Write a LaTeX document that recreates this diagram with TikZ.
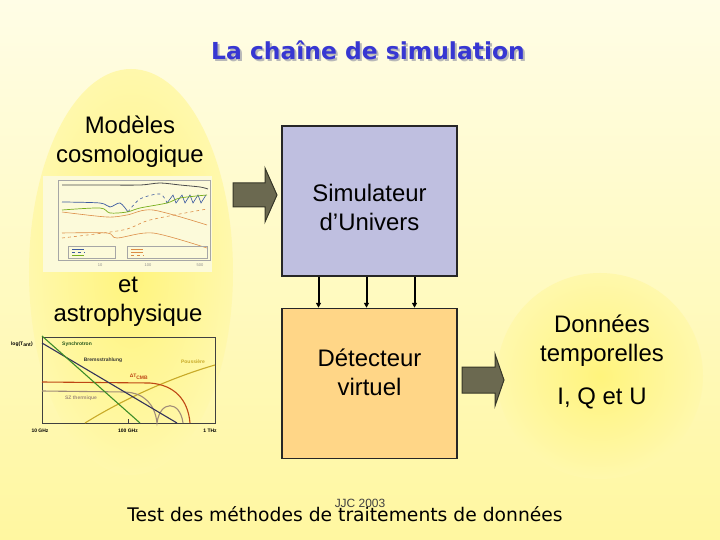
\documentclass[tikz,border=0pt]{standalone}
\usepackage{fontspec}
\setmainfont{Liberation Sans}
\newfontfamily\comicfont{DejaVu Sans}
\usepackage{xcolor}
\definecolor{fondhaut}{RGB}{255,253,230}
\definecolor{fondbas}{RGB}{255,247,160}
\definecolor{jaunein}{RGB}{255,244,125}
\definecolor{jauneout}{RGB}{255,248,172}
\definecolor{titreblue}{RGB}{55,55,210}
\definecolor{simblue}{RGB}{191,191,224}
\definecolor{detorange}{RGB}{255,214,135}
\definecolor{flecheolive}{RGB}{107,105,80}
\definecolor{flechebord}{RGB}{55,55,40}
\definecolor{plotfond}{RGB}{252,250,218}
\definecolor{cvert}{RGB}{60,140,40}
\definecolor{cmarine}{RGB}{50,50,90}
\definecolor{crouge}{RGB}{190,70,20}
\definecolor{cgris}{RGB}{160,140,120}
\definecolor{cjaune}{RGB}{200,170,40}
\definecolor{cbleu}{RGB}{60,90,160}
\definecolor{corange}{RGB}{220,140,70}
\usepackage{tikz}
\usetikzlibrary{positioning, arrows.meta, calc}

\begin{document}
\begin{tikzpicture}[x=1bp, y=-1bp, node distance=31bp, >={Triangle[length=5bp,width=5bp]},
    every node/.style={font=\fontsize{24}{29}\selectfont, align=center, inner sep=0pt},
    boite/.style={draw=black!85, line width=1.5bp, minimum width=175bp, minimum height=150bp},
    grossefleche/.style={fill=flecheolive, draw=flechebord, line width=1bp},
    petitefleche/.style={->, line width=2bp, black},
    legende/.style={font=\fontsize{5}{6}\selectfont\bfseries}]
    \useasboundingbox (0,0) rectangle (720,540);
    \shade [top color=fondhaut, bottom color=fondbas] (0,0) rectangle (720,540);

    % les deux zones jaunes
    \shade [inner color=jaunein, outer color=jauneout] (131,272) ellipse [x radius=102bp, y radius=203bp];
    \shade [inner color=jaunein, outer color=jauneout] (600,376) circle [radius=103bp];

    % titre
    \node [font=\comicfont\bfseries\fontsize{23.5}{28}\selectfont, text=black!28] (titreombre) at (370,52) {La chaîne de simulation};
    \node [font=\comicfont\bfseries\fontsize{23.5}{28}\selectfont, text=titreblue] (titre) at (368,50) {La chaîne de simulation};

    % modeles
    \node (modeles) at (130,142) {Modèles\\cosmologique};
    \node (astro) at (128,302) {et\\astrophysique};

    % spectre de puissance (haut)
    \fill [plotfond] (43,176) rectangle (212,272);
    \draw [black!35, line width=0.4bp] (58,180) rectangle (210,260);
    \draw [black!70, line width=0.8bp] plot [smooth] coordinates {(62,185) (100,185) (140,185) (160,183) (180,185) (200,187) (208,189)};
    \draw [cbleu, line width=0.7bp] plot [smooth] coordinates {(62,202) (100,203) (110,207) (120,203) (128,212)};
    \draw [cbleu, line width=0.6bp, dashed] plot [smooth] coordinates {(128,212) (140,199) (160,194) (167,203)};
    \draw [cbleu, line width=0.6bp] (167,203) -- (173,195) -- (176,203) -- (182,195) -- (185,203) -- (190,195) -- (193,203) -- (198,195) -- (201,203) -- (206,195);
    \draw [cvert!70!yellow, line width=0.7bp] plot [smooth] coordinates {(62,210) (100,208) (110,213) (127,212) (140,208) (167,203) (180,198) (207,195)};
    \draw [corange, line width=0.6bp] plot [smooth] coordinates {(62,212) (107,217) (127,215) (153,210) (207,225)};
    \draw [corange, line width=0.6bp, dashed] plot [smooth] coordinates {(62,238) (123,230) (150,220) (207,209)};
    \draw [corange, line width=0.6bp] plot [smooth] coordinates {(62,233) (107,233) (117,238) (153,233) (207,248)};
    \draw [black!35, line width=0.3bp] (68,246) rectangle (115,258) (127,246) rectangle (207,258);
    \draw [cbleu, line width=0.5bp] (72,249) -- (84,249);
    \draw [cbleu, line width=0.5bp, dashed] (72,252) -- (84,252);
    \draw [cvert!70!yellow, line width=0.5bp] (72,255) -- (84,255);
    \draw [corange, line width=0.5bp] (131,249) -- (143,249) (131,252) -- (143,252);
    \draw [corange, line width=0.5bp, dashed] (131,255) -- (143,255);
    \node [font=\fontsize{4}{5}\selectfont, text=black!45] (tick10) at (100,265) {10};
    \node [font=\fontsize{4}{5}\selectfont, text=black!45] (tick100) at (148,265) {100};
    \node [font=\fontsize{4}{5}\selectfont, text=black!45] (tick500) at (200,265) {500};

    % spectre en frequence (bas)
    \draw [black!75, line width=0.8bp] (42,337) rectangle (215,423);
    \draw [black!75, line width=0.8bp] (128,423) -- (128,419);
    \draw [cjaune, line width=1.1bp] (85,423) .. controls (130,395) and (180,375) .. (215,365);
    \draw [cgris, line width=1.1bp] (42,391) -- (125,392) .. controls (145,393) and (155,405) .. (157,423) .. controls (160,400) and (180,400) .. (183,423);
    \draw [crouge, line width=1.1bp] (42,382) -- (150,383) .. controls (175,385) and (188,400) .. (190,423);
    \draw [cmarine, line width=1.1bp] (42,343) -- (177,423);
    \draw [cvert, line width=1.1bp] (42,336) -- (140,423);
    \node [legende] (logt) at (22,344) {log(T\textsubscript{ant})};
    \node [legende, text=cvert!60!black] (synchro) at (77,344) {Synchrotron};
    \node [legende, text=black!80] (brems) at (103,360) {Bremsstrahlung};
    \node [legende, text=cjaune] (poussiere) at (193,362) {Poussière};
    \node [legende, text=crouge] (cmb) at (139,377) {ΔT\textsubscript{CMB}};
    \node [legende, text=cgris] (sz) at (81,398) {SZ thermique};
    \node [legende] (f10) at (40,431) {10 GHz};
    \node [legende] (f100) at (128,431) {100 GHz};
    \node [legende] (f1000) at (210,431) {1 THz};

    % chaine
    \draw [grossefleche] (233,183) -- (265,183) -- (265,168) -- (277,195) -- (265,222) -- (265,207) -- (233,207) -- cycle;
    \node [boite, fill=simblue] (sim) at (369.5,201) {\rule{0pt}{30bp}Simulateur\\d’Univers};
    \node [boite, fill=detorange, below=of sim] (det) {Détecteur\\virtuel\rule[-22bp]{0pt}{22bp}};
    \foreach \dx in {-51,-3,45}
        \draw [petitefleche] ([xshift=\dx bp]sim.south) -- ([xshift=\dx bp]det.north);
    \draw [grossefleche] (462,367) -- (495,367) -- (495,354) -- (504,380) -- (495,406) -- (495,393) -- (462,393) -- cycle;

    \node (donnees) at (602,362) {Données\\temporelles\\[15bp]I, Q et U};

    % bas de page
    \node [font=\fontsize{12}{14}\selectfont, text=black!75] (jjc) at (360,503) {JJC 2003};
    \node [font=\comicfont\fontsize{18.8}{22}\selectfont] (test) at (345,514) {Test des méthodes de traitements de données};
\end{tikzpicture}
\end{document}
